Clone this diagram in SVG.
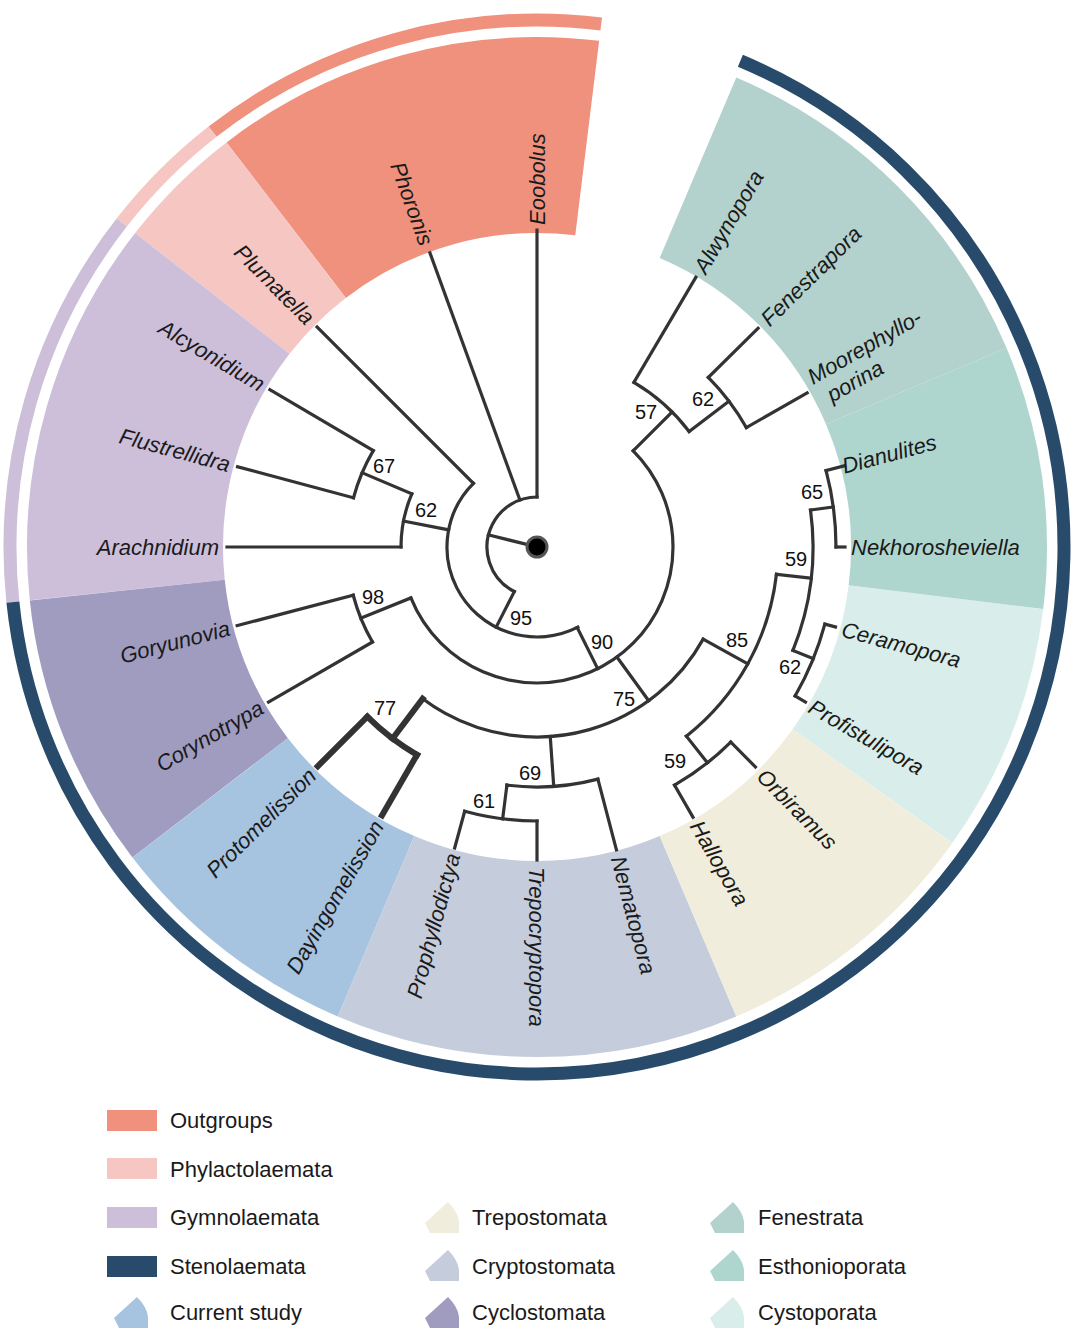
<svg xmlns="http://www.w3.org/2000/svg" width="1075" height="1329" viewBox="0 0 1075 1329">
<style>
.sec{fill:none;stroke-width:196}
.ring{fill:none;stroke-width:13}
.tr{fill:none;stroke:#333;stroke-width:3.2;stroke-linecap:square}
.thick{stroke-width:6}
.lab{font-family:"Liberation Sans",Arial,sans-serif;font-style:italic;font-size:22px;fill:#1a1a1a}
.bs{font-family:"Liberation Sans",Arial,sans-serif;font-size:20px;fill:#111;text-anchor:middle}
.lg{font-family:"Liberation Sans",Arial,sans-serif;font-size:22px;fill:#1a1a1a}
</style>
<defs>
<path id="w" d="M5,31 L0,21 L23,0 Q33,10 34,20 L34,31 Z"/>
</defs>
<g id="sectors" transform="translate(537,547)">
<circle r="412" class="sec" stroke="#F0917E" pathLength="360" stroke-dasharray="44.5 360" transform="rotate(-127.5)"/>
<circle r="412" class="sec" stroke="#F5C6C2" pathLength="360" stroke-dasharray="14.5 360" transform="rotate(-142)"/>
<circle r="412" class="sec" stroke="#CDBFDA" pathLength="360" stroke-dasharray="44 360" transform="rotate(-186)"/>
<circle r="412" class="sec" stroke="#A09CC0" pathLength="360" stroke-dasharray="31.5 360" transform="rotate(-217.5)"/>
<circle r="412" class="sec" stroke="#A6C3E0" pathLength="360" stroke-dasharray="29.5 360" transform="rotate(-247)"/>
<circle r="412" class="sec" stroke="#C5CCDC" pathLength="360" stroke-dasharray="46 360" transform="rotate(67)"/>
<circle r="412" class="sec" stroke="#F0EDDC" pathLength="360" stroke-dasharray="31.5 360" transform="rotate(35.5)"/>
<circle r="412" class="sec" stroke="#D9EEEA" pathLength="360" stroke-dasharray="28.5 360" transform="rotate(7)"/>
<circle r="412" class="sec" stroke="#AED6CF" pathLength="360" stroke-dasharray="30 360" transform="rotate(-23)"/>
<circle r="412" class="sec" stroke="#B3D1CD" pathLength="360" stroke-dasharray="44 360" transform="rotate(-67)"/>
<circle r="527" class="ring" stroke="#F0917E" pathLength="360" stroke-dasharray="45 360" transform="rotate(-128)"/>
<circle r="527" class="ring" stroke="#F5C6C2" pathLength="360" stroke-dasharray="14 360" transform="rotate(-142)"/>
<circle r="527" class="ring" stroke="#CDBFDA" pathLength="360" stroke-dasharray="44 360" transform="rotate(-186)"/>
<circle r="527" class="ring" stroke="#284B6C" pathLength="360" stroke-dasharray="241.3 360" transform="rotate(-67.3)"/>
</g>
<g id="connectors" transform="translate(537,547)" class="tr">
<line y1="0" y2="-50" transform="rotate(-76)"/>
<circle r="50" pathLength="360" stroke-dasharray="153 360" transform="rotate(-243)"/>
<line y1="-50" y2="-317" transform="rotate(0)"/>
<line y1="-50" y2="-313" transform="rotate(-20)"/>
<line y1="-50" y2="-90" transform="rotate(-153)"/>
<circle r="90" pathLength="360" stroke-dasharray="162 360" transform="rotate(-297)"/>
<line y1="-90" y2="-311" transform="rotate(-45)"/>
<line y1="-90" y2="-136" transform="rotate(-79)"/>
<circle r="136" pathLength="360" stroke-dasharray="23 360" transform="rotate(-180)"/>
<line y1="-136" y2="-310" transform="rotate(-90)"/>
<line y1="-136" y2="-190" transform="rotate(-67)"/>
<circle r="190" pathLength="360" stroke-dasharray="15.5 360" transform="rotate(-165)"/>
<line y1="-190" y2="-310" transform="rotate(-75)"/>
<line y1="-190" y2="-310" transform="rotate(-59.5)"/>
<line y1="-90" y2="-136" transform="rotate(153.5)"/>
<circle r="136" pathLength="360" stroke-dasharray="203 360" transform="rotate(-45)"/>
<line y1="-136" y2="-190" transform="rotate(-112)"/>
<circle r="190" pathLength="360" stroke-dasharray="15.3 360" transform="rotate(-210)"/>
<line y1="-190" y2="-310" transform="rotate(-104.7)"/>
<line y1="-190" y2="-310" transform="rotate(-120)"/>
<line y1="-136" y2="-190" transform="rotate(144)"/>
<circle r="190" pathLength="360" stroke-dasharray="98 360" transform="rotate(29)"/>
<line class="thick" y1="-190" y2="-240" transform="rotate(-143)"/>
<circle class="thick" r="240" pathLength="360" stroke-dasharray="15 360" transform="rotate(-240)"/>
<line class="thick" y1="-240" y2="-310" transform="rotate(-135)"/>
<line class="thick" y1="-240" y2="-310" transform="rotate(-150)"/>
<line y1="-190" y2="-240" transform="rotate(176)"/>
<circle r="240" pathLength="360" stroke-dasharray="21.9 360" transform="rotate(75.3)"/>
<line y1="-240" y2="-313" transform="rotate(165.3)"/>
<line y1="-240" y2="-274" transform="rotate(187.2)"/>
<circle r="274" pathLength="360" stroke-dasharray="15.3 360" transform="rotate(90)"/>
<line y1="-274" y2="-313" transform="rotate(180)"/>
<line y1="-274" y2="-312" transform="rotate(195.3)"/>
<line y1="-190" y2="-241" transform="rotate(119)"/>
<circle r="241" pathLength="360" stroke-dasharray="45.2 360" transform="rotate(6.5)"/>
<line y1="-241" y2="-275" transform="rotate(141.7)"/>
<circle r="275" pathLength="360" stroke-dasharray="14.8 360" transform="rotate(45.2)"/>
<line y1="-275" y2="-310" transform="rotate(135.2)"/>
<line y1="-275" y2="-312" transform="rotate(150)"/>
<line y1="-241" y2="-276" transform="rotate(96.5)"/>
<circle r="276" pathLength="360" stroke-dasharray="29.7 360" transform="rotate(-7.7)"/>
<line y1="-276" y2="-299" transform="rotate(82.3)"/>
<circle r="299" pathLength="360" stroke-dasharray="14.8 360" transform="rotate(-14.8)"/>
<line y1="-299" y2="-318" transform="rotate(75.2)"/>
<line y1="-299" y2="-308" transform="rotate(90)"/>
<line y1="-276" y2="-298" transform="rotate(112)"/>
<circle r="298" pathLength="360" stroke-dasharray="15 360" transform="rotate(15)"/>
<line y1="-298" y2="-309" transform="rotate(105)"/>
<line y1="-298" y2="-310" transform="rotate(120)"/>
<line y1="-136" y2="-191" transform="rotate(45)"/>
<circle r="191" pathLength="360" stroke-dasharray="22.3 360" transform="rotate(-59.5)"/>
<line y1="-191" y2="-313" transform="rotate(30.5)"/>
<line y1="-191" y2="-241" transform="rotate(52.8)"/>
<circle r="241" pathLength="360" stroke-dasharray="15 360" transform="rotate(-44.7)"/>
<line y1="-241" y2="-311" transform="rotate(45.3)"/>
<line y1="-241" y2="-311" transform="rotate(60.3)"/>
</g>
<circle id="root" cx="537" cy="547" r="10" fill="#000" stroke="#555" stroke-width="3"/>
<g id="tips" transform="translate(537,547)" class="lab">
<g id="n-eoobolus"><text transform="rotate(-90) translate(322,0)" dy="0.35em">Eoobolus</text></g>
<g id="n-phoronis"><text transform="rotate(70) translate(-322,0)" dy="0.35em" text-anchor="end">Phoronis</text></g>
<g id="n-plumatella"><text transform="rotate(45) translate(-320,0)" dy="0.35em" text-anchor="end">Plumatella</text></g>
<g id="n-alcyonidium"><text transform="rotate(30.5) translate(-318,0)" dy="0.35em" text-anchor="end">Alcyonidium</text></g>
<g id="n-flustrellidra"><text transform="rotate(15) translate(-318,0)" dy="0.35em" text-anchor="end">Flustrellidra</text></g>
<g id="n-arachnidium"><text transform="rotate(0) translate(-318,0)" dy="0.35em" text-anchor="end">Arachnidium</text></g>
<g id="n-goryunovia"><text transform="rotate(-14.7) translate(-318,0)" dy="0.35em" text-anchor="end">Goryunovia</text></g>
<g id="n-corynotrypa"><text transform="rotate(-30) translate(-318,0)" dy="0.35em" text-anchor="end">Corynotrypa</text></g>
<g id="n-protomelission"><text transform="rotate(-45) translate(-318,0)" dy="0.35em" text-anchor="end">Protomelission</text></g>
<g id="n-dayingomelission"><text transform="rotate(-60) translate(-318,0)" dy="0.35em" text-anchor="end">Dayingomelission</text></g>
<g id="n-prophyllodictya"><text transform="rotate(-74.7) translate(-318,0)" dy="0.35em" text-anchor="end">Prophyllodictya</text></g>
<g id="n-trepocryptopora"><text transform="rotate(90) translate(320,0)" dy="0.35em">Trepocryptopora</text></g>
<g id="n-nematopora"><text transform="rotate(75.3) translate(320,0)" dy="0.35em">Nematopora</text></g>
<g id="n-hallopora"><text transform="rotate(60) translate(318,0)" dy="0.35em">Hallopora</text></g>
<g id="n-orbiramus"><text transform="rotate(45.2) translate(318,0)" dy="0.35em">Orbiramus</text></g>
<g id="n-profistulipora"><text transform="rotate(30) translate(316,0)" dy="0.35em">Profistulipora</text></g>
<g id="n-ceramopora"><text transform="rotate(15) translate(316,0)" dy="0.35em">Ceramopora</text></g>
<g id="n-nekhorosheviella"><text transform="rotate(0) translate(314,0)" dy="0.35em">Nekhorosheviella</text></g>
<g id="n-dianulites"><text transform="rotate(-14.8) translate(316,0)" dy="0.35em">Dianulites</text></g>
<g id="n-moorephylloporina"><text transform="rotate(-29.7) translate(320,0)"><tspan x="0" y="-4">Moorephyllo-</tspan><tspan x="8" y="21">porina</tspan></text></g>
<g id="n-fenestrapora"><text transform="rotate(-44.7) translate(320,0)" dy="0.35em">Fenestrapora</text></g>
<g id="n-alwynopora"><text transform="rotate(-59.5) translate(320,0)" dy="0.35em">Alwynopora</text></g>
</g>
<g id="bootstrap" class="bs">
<text x="384" y="473">67</text><text x="426" y="517">62</text><text x="373" y="604">98</text>
<text x="521" y="625">95</text><text x="602" y="649">90</text><text x="624" y="706">75</text>
<text x="385" y="715">77</text><text x="530" y="780">69</text><text x="484" y="808">61</text>
<text x="737" y="647">85</text><text x="675" y="768">59</text><text x="790" y="674">62</text>
<text x="796" y="566">59</text><text x="812" y="499">65</text><text x="646" y="419">57</text>
<text x="703" y="406">62</text>
</g>
<g id="legend" class="lg">
<rect x="107" y="1110" width="50" height="21" fill="#F0917E"/><text x="170" y="1128">Outgroups</text>
<rect x="107" y="1158" width="50" height="21" fill="#F5C6C2"/><text x="170" y="1177">Phylactolaemata</text>
<rect x="107" y="1207" width="50" height="21" fill="#CDBFDA"/><text x="170" y="1225">Gymnolaemata</text>
<rect x="107" y="1256" width="50" height="21" fill="#284B6C"/><text x="170" y="1274">Stenolaemata</text>
<use href="#w" x="114" y="1297" fill="#A6C3E0"/><text x="170" y="1320">Current study</text>
<use href="#w" x="425" y="1202" fill="#F0EDDC"/><text x="472" y="1225">Trepostomata</text>
<use href="#w" x="425" y="1250" fill="#C5CCDC"/><text x="472" y="1274">Cryptostomata</text>
<use href="#w" x="425" y="1297" fill="#A09CC0"/><text x="472" y="1320">Cyclostomata</text>
<use href="#w" x="710" y="1202" fill="#B3D1CD"/><text x="758" y="1225">Fenestrata</text>
<use href="#w" x="710" y="1250" fill="#AED6CF"/><text x="758" y="1274">Esthonioporata</text>
<use href="#w" x="710" y="1297" fill="#D9EEEA"/><text x="758" y="1320">Cystoporata</text>
</g>
</svg>
